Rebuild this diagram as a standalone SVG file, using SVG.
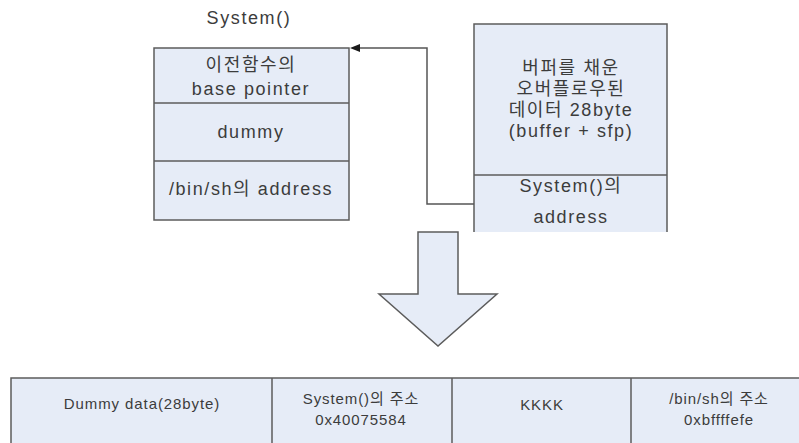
<svg xmlns="http://www.w3.org/2000/svg" width="799" height="443" viewBox="0 0 799 443">
  <style>
    .box { fill: #e6ecf7; stroke: #5c5c5c; stroke-width: 1.5; }
    .edge { fill: none; stroke: #5c5c5c; stroke-width: 1.5; }
    .fill { fill: #e6ecf7; stroke: none; }
    .t { font-family: "Liberation Sans", "Noto Sans CJK KR", sans-serif; font-size: 18px; letter-spacing: 1.6px; fill: #3c3c3c; text-anchor: middle; }
    .s { font-family: "Liberation Sans", "Noto Sans CJK KR", sans-serif; font-size: 15px; letter-spacing: 0.9px; fill: #3c3c3c; text-anchor: middle; }
    .conn { fill: none; stroke: #555555; stroke-width: 1.5; }
  </style>
  <defs>
    <marker id="arrow" viewBox="0 0 10 8" refX="0" refY="4" markerWidth="10" markerHeight="8" markerUnits="userSpaceOnUse" orient="auto-start-reverse">
      <path d="M0,0 L10,4 L0,8 Z" fill="#1a1a1a"/>
    </marker>
  </defs>

  <rect width="799" height="443" fill="#ffffff"/>

  <!-- caption above the stack frame -->
  <text class="t" x="249" y="24">System()</text>

  <!-- stack frame of System() -->
  <g id="system-frame">
    <rect class="box" x="154" y="48" width="195" height="172"/>
    <line class="edge" x1="154" y1="103" x2="349" y2="103"/>
    <line class="edge" x1="154" y1="161" x2="349" y2="161"/>
    <text class="t" x="251" y="71">이전함수의</text>
    <text class="t" x="251" y="95">base pointer</text>
    <text class="t" x="251" y="138">dummy</text>
    <text class="t" x="251" y="195">/bin/sh의 address</text>
  </g>

  <!-- overflowed buffer, open at the bottom -->
  <g id="overflow-buffer">
    <rect class="fill" x="474" y="24" width="193" height="208"/>
    <path class="edge" d="M474,232 V24 H667 V232"/>
    <line class="edge" x1="474" y1="175" x2="667" y2="175"/>
    <text class="t" x="571" y="74">버퍼를 채운</text>
    <text class="t" x="571" y="95">오버플로우된</text>
    <text class="t" x="571" y="116">데이터 28byte</text>
    <text class="t" x="571" y="137">(buffer + sfp)</text>
    <text class="t" x="571" y="192">System()의</text>
    <text class="t" x="571" y="223">address</text>
  </g>

  <!-- connectors -->
  <g id="connectors">
    <path class="conn" d="M474,204 H427 V48 H360" marker-end="url(#arrow)"/>
  </g>

  <!-- big down arrow -->
  <g id="down-arrow">
    <polygon class="box" points="418,232 458,232 458,294 497,294 438,346 379,294 418,294"/>
  </g>

  <!-- resulting payload layout -->
  <g id="payload">
    <rect class="box" x="11" y="378" width="800" height="80"/>
    <line class="edge" x1="272" y1="378" x2="272" y2="443"/>
    <line class="edge" x1="452" y1="378" x2="452" y2="443"/>
    <line class="edge" x1="631" y1="378" x2="631" y2="443"/>
    <text class="s" x="142" y="409">Dummy data(28byte)</text>
    <text class="s" x="361" y="404">System()의 주소</text>
    <text class="s" x="361" y="425">0x40075584</text>
    <text class="s" x="542" y="410">KKKK</text>
    <text class="s" x="719" y="404">/bin/sh의 주소</text>
    <text class="s" x="719" y="425">0xbffffefe</text>
  </g>
</svg>
